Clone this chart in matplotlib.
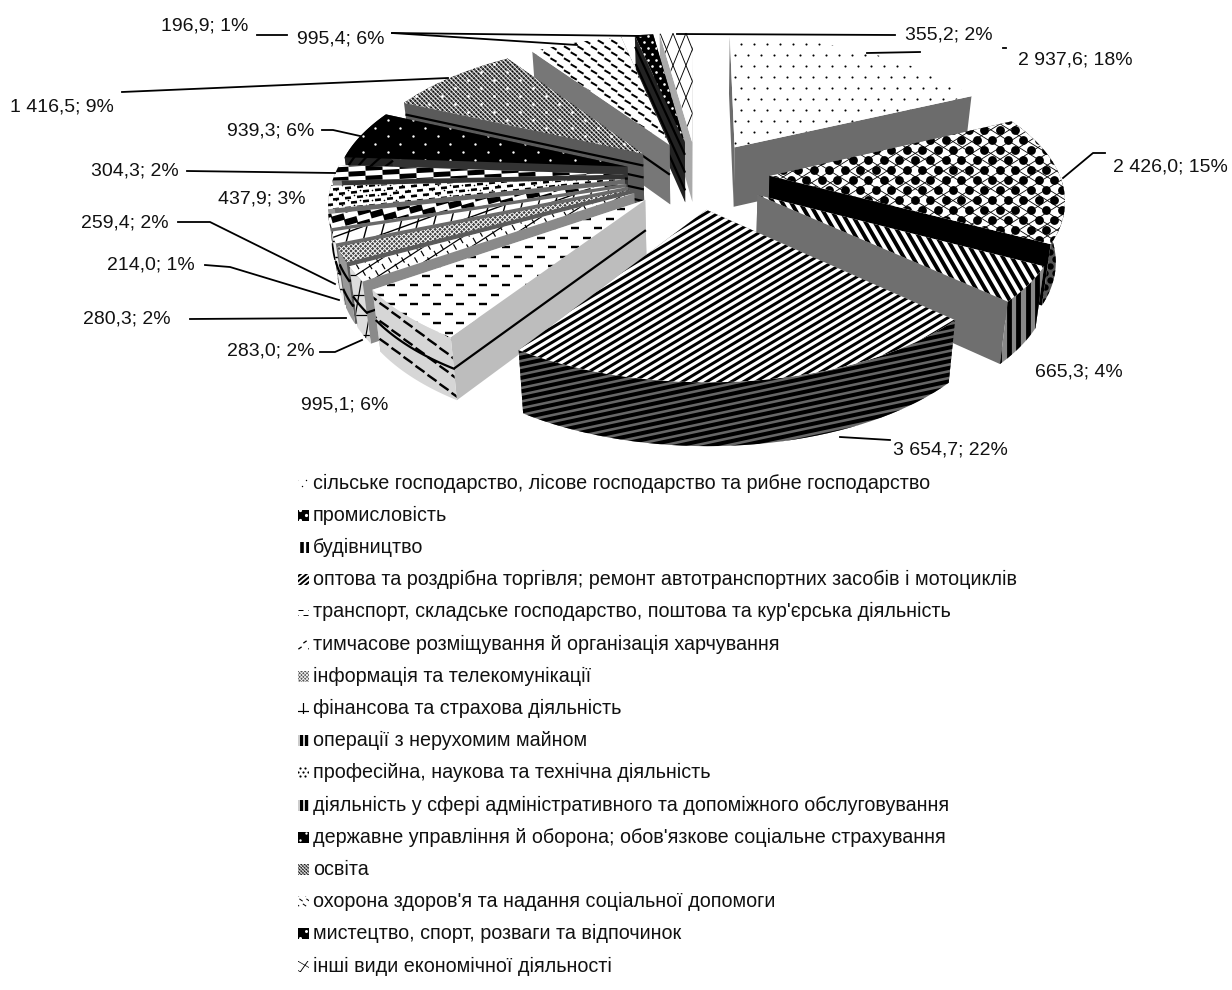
import numpy as np
import matplotlib
matplotlib.use("Agg")
import matplotlib.pyplot as plt
from matplotlib.patches import Polygon
from matplotlib.collections import LineCollection

categories = ["сільське господарство, лісове господарство та рибне господарство",
              "промисловість", "будівництво",
              "оптова та роздрібна торгівля; ремонт автотранспортних засобів і мотоциклів",
              "транспорт, складське господарство, поштова та кур'єрська діяльність",
              "тимчасове розміщування й організація харчування",
              "інформація та телекомунікації", "фінансова та страхова діяльність",
              "операції з нерухомим майном", "професійна, наукова та технічна діяльність",
              "діяльність у сфері адміністративного та допоміжного обслуговування",
              "державне управління й оборона; обов'язкове соціальне страхування",
              "освіта", "охорона здоров'я та надання соціальної допомоги",
              "мистецтво, спорт, розваги та відпочинок", "інші види економічної діяльності"]
values = [2937.6, 2426.0, 665.3, 3654.7, 995.1, 283.0, 280.3, 214.0,
          259.4, 437.9, 304.3, 939.3, 1416.5, 995.4, 196.9, 355.2]

plt.rcParams['font.family'] = ['Liberation Sans', 'DejaVu Sans']
fig = plt.figure(figsize=(12.32, 9.9), dpi=100)
ax = fig.add_axes([0, 0, 1, 1])
ax.set_xlim(0, 1232); ax.set_ylim(990, 0); ax.axis('off'); ax.set_autoscale_on(False)
PT = 0.72

# pie projection
CX, CY, AX, BY, K, EXPL = 697, 175, 290, 135, 0.15, 0.25
def proj(X, Y, z=0.0):
    X, Y = np.asarray(X, float), np.asarray(Y, float)
    s = 1 / (1 + K * Y)
    x = CX + AX * X * s
    y = CY - BY * Y * s
    return CX + (x - CX) * (1 - 0.025 * z), y + 60 * s**0.3 * z

def bbox(p):
    v = p.get_xy()
    return v[:, 0].min(), v[:, 0].max(), v[:, 1].min(), v[:, 1].max()

def stripes(p, angle, period, width, color='k'):
    x0, x1, y0, y1 = bbox(p)
    cx, cy, L = (x0 + x1) / 2, (y0 + y1) / 2, np.hypot(x1 - x0, y1 - y0) + 5
    a = np.radians(angle)
    d = np.array([np.cos(a), -np.sin(a)]); n = np.array([-d[1], d[0]])
    off0 = round((cx * n[0] + cy * n[1]) / period) * period - (cx * n[0] + cy * n[1])
    segs = []
    for o in np.arange(-L, L + period, period):
        c = np.array([cx, cy]) + n * (o + off0)
        segs.append([c - d * L, c + d * L])
    lc = LineCollection(segs, colors=color, linewidths=width * PT, capstyle='butt', zorder=p.get_zorder())
    ax.add_collection(lc); lc.set_clip_path(p)

def dashes(p, dx, dy, length, width, angle=0, color='k', rowtilt=0):
    x0, x1, y0, y1 = bbox(p)
    a = np.radians(angle)
    d = np.array([np.cos(a), -np.sin(a)]) * length / 2
    t = np.tan(np.radians(rowtilt))
    pad = abs(t) * (x1 - x0) + dy
    segs = []
    for yy in np.arange(np.floor((y0 - pad) / dy) * dy, y1 + pad + dy, dy):
        st = dx / 2 if round(yy / dy) % 2 else 0
        for xx in np.arange(np.floor(x0 / dx) * dx - dx + st, x1 + dx, dx):
            c = np.array([xx, yy - t * (xx - x0)])
            segs.append([c - d, c + d])
    lc = LineCollection(segs, colors=color, linewidths=width * PT, capstyle='butt', zorder=p.get_zorder())
    ax.add_collection(lc); lc.set_clip_path(p)

def dots(p, dx, dy, r, color='k'):
    x0, x1, y0, y1 = bbox(p)
    xs, ys = [], []
    for yy in np.arange(np.floor(y0 / dy) * dy, y1 + dy, dy):
        st = dx / 2 if round(yy / dy) % 2 else 0
        for xx in np.arange(np.floor(x0 / dx) * dx - dx + st, x1 + dx, dx):
            xs.append(xx); ys.append(yy)
    sc = ax.scatter(xs, ys, s=(2 * r * PT) ** 2, c=color, linewidths=0, zorder=p.get_zorder())
    sc.set_clip_path(p)

def paint(p, spec):
    for kind, kw in spec:
        {'stripes': stripes, 'dashes': dashes, 'dots': dots}[kind](p, **kw)

S = lambda **k: ('stripes', k)
D = lambda **k: ('dashes', k)
O = lambda **k: ('dots', k)

top_bg = ['white', 'white', 'white', 'white', 'white', 'white', '#444444', 'white',
          'white', 'white', 'white', 'black', '#666666', 'white', 'black', 'white']
top_tex = [
    [O(dx=13, dy=11, r=1.05)],
    [S(angle=32, period=10, width=.8), S(angle=-32, period=10, width=.8), O(dx=15.5, dy=10, r=4.4)],
    [S(angle=-60, period=7.8, width=3.9)],
    [S(angle=31, period=6.3, width=3.0)],
    [D(dx=23, dy=9.5, length=8, width=2.4)],
    [S(angle=33, period=13, width=1.2), D(dx=13, dy=6.5, length=6, width=1.2, angle=-60)],
    [S(angle=45, period=3.4, width=1.0, color='white'), S(angle=-45, period=3.4, width=1.0, color='white')],
    [S(angle=20, period=14, width=1.4), S(angle=75, period=16, width=1.4)],
    [D(dx=26, dy=6.5, length=13, width=6.5, angle=16, rowtilt=16)],
    [D(dx=12, dy=5, length=6, width=2.6, angle=6, rowtilt=6), O(dx=12, dy=5, r=.8)],
    [D(dx=34, dy=5, length=17, width=5, angle=3, rowtilt=3)],
    [O(dx=25, dy=8, r=1.2, color='white')],
    [S(angle=45, period=3.2, width=1.0), S(angle=-45, period=3.2, width=1.0, color='white'), O(dx=26, dy=8, r=1.4, color='white')],
    [D(dx=13.5, dy=6, length=7, width=2.0, angle=-30)],
    [O(dx=8, dy=6, r=1.3, color='white')],
    [S(angle=68, period=12, width=.9), S(angle=-68, period=12, width=.9)],
]
wall_col = ['#6c6c6c', '#000000', '#6f6f6f', '#6a6a6a', '#bdbdbd', '#8a8a8a', '#5a5a5a', '#6a6a6a',
            '#6a6a6a', '#6a6a6a', '#333333', '#333333', '#5a5a5a', '#777777', '#222222', '#aaaaaa']
wall_lines = [[], [], [], [], [.5], [.5], [.3, .7], [.5], [.5], [.5], [.5],
              [.2, .4, .6, .8], [.2, .4, .6, .8], [.5], [.2, .5, .8], []]
outer_bg = ['#cccccc', '#555555', '#888888', '#666666', '#d6d6d6', '#dddddd', '#999999', '#eeeeee',
            '#777777', '#999999', '#888888', '#222222', '#777777', '#cccccc', '#222222', '#dddddd']
outer_tex = [
    [], [O(dx=10, dy=7, r=3.2)], [S(angle=90, period=9.5, width=4.8)], [S(angle=12, period=6.6, width=4.0)],
    [D(dx=24, dy=9, length=11, width=2.4, angle=-35)], [S(angle=0, period=20, width=1.2), S(angle=80, period=14, width=1.2)],
    [], [S(angle=0, period=16, width=1.4)], [D(dx=10, dy=10, length=6, width=5)], [], [], [], [], [], [], []]
swatch_bg = ['white', 'black', 'white', 'white', 'white', 'white', '#555555', 'white',
             'black', 'white', 'black', 'black', '#777777', 'white', 'black', 'white']
swatch_tex = [
    [O(dx=9, dy=6, r=.7)],
    [O(dx=12, dy=5, r=1.6, color='white')],
    [S(angle=90, period=6.2, width=3.6)],
    [S(angle=40, period=3.8, width=2.0)],
    [D(dx=10, dy=5, length=5, width=1.0)],
    [D(dx=10, dy=6, length=4, width=1.3, angle=35)],
    [S(angle=45, period=2.6, width=.8, color='white'), S(angle=-45, period=2.6, width=.8, color='white')],
    [S(angle=0, period=12, width=1.2), S(angle=90, period=12, width=1.2)],
    [S(angle=90, period=5, width=1.6, color='white')],
    [O(dx=5, dy=4, r=1.1)],
    [S(angle=90, period=5, width=1.6, color='white')],
    [O(dx=12, dy=7, r=1.2, color='white')],
    [S(angle=45, period=2.4, width=.8), S(angle=-45, period=2.4, width=.8, color='white')],
    [D(dx=7, dy=5, length=4, width=1.0, angle=-35)],
    [O(dx=12, dy=7, r=1.5, color='white')],
    [S(angle=55, period=8, width=.9), S(angle=-30, period=8, width=.7)],
]

vals = np.array(values)
frac = vals / vals.sum()
edges = np.concatenate([[0], np.cumsum(frac)]) * 2 * np.pi

def pts(th, i, z=0.0, r=1.0):
    m = (edges[i] + edges[i + 1]) / 2
    X = EXPL * np.sin(m) + r * np.sin(th)
    Y = EXPL * np.cos(m) + r * np.cos(th)
    return np.array(proj(X, Y, z)).T

order = sorted(range(len(vals)), key=lambda i: -(np.cos((edges[i] + edges[i + 1]) / 2)))
for rank, i in enumerate(order):
    zb = 10 + rank * 0.01
    a, b = edges[i], edges[i + 1]
    w = sorted([a, b], key=lambda t: -np.cos(t))
    for n, t in enumerate(w):
        tt = np.array([t])
        q = np.vstack([pts(tt, i, 0, 0), pts(tt, i, 0), pts(tt, i, 1), pts(tt, i, 1, 0)])
        ax.add_patch(Polygon(q, closed=True, fc=wall_col[i], ec='none', zorder=zb))
        if n == 1:
            for zz in wall_lines[i]:
                l = np.vstack([pts(tt, i, zz, 0), pts(tt, i, zz)])
                ax.plot(l[:, 0], l[:, 1], color='k', lw=1.6, zorder=zb, solid_capstyle='butt')
    th = np.linspace(a, b, 40)
    if (np.cos(th) < 0.15).any():
        q = np.vstack([pts(th, i, 0), pts(th[::-1], i, 1)])
        o = Polygon(q, closed=True, fc=outer_bg[i], ec='none', zorder=zb + .001)
        ax.add_patch(o); paint(o, outer_tex[i])
        for zz in wall_lines[i]:
            l = pts(th, i, zz)
            ax.plot(l[:, 0], l[:, 1], color='k', lw=1.6, zorder=zb + .001)
    q = np.vstack([pts(np.array([a]), i, 0, 0), pts(th, i, 0)])
    t = Polygon(q, closed=True, fc=top_bg[i], ec='none', zorder=zb + .002)
    ax.add_patch(t); paint(t, top_tex[i])

def fmt(v, f):
    return f"{v:,.1f}".replace(',', ' ').replace('.', ',') + f"; {round(f * 100):d}%"
label_left = [1018, 1113, 1035, 893, 301, 227, 83, 107, 81, 218, 91, 227, 10, 297, 161, 905]
label_y = [60, 167, 372, 450, 405, 351, 319, 265, 223, 199, 171, 131, 107, 39, 26, 35]
FS = 14.0
for v, f, x, y in zip(vals, frac, label_left, label_y):
    ax.text(x, y, fmt(v, f), fontsize=FS, ha='left', va='center', color='#111111', zorder=30)

leaders = [[(867, 53), (920, 52)], [(1003, 48), (1006, 48)], [(1063, 178), (1093, 153), (1105, 153)],
           [(840, 437), (890, 440)], [(362, 340), (335, 352), (320, 352)], [(346, 318), (190, 319)],
           [(339, 300), (230, 267), (205, 265)], [(335, 284), (210, 222), (178, 222)], [(187, 171), (335, 173)],
           [(322, 130), (333, 130), (360, 136)], [(122, 92), (448, 78)], [(392, 33), (577, 45)],
           [(257, 35), (287, 35)], [(392, 33), (643, 36)], [(895, 35), (677, 34)]]
for l in leaders:
    l = np.array(l)
    ax.plot(l[:, 0], l[:, 1], color='k', lw=1.3, zorder=25)

LEG_Y0, LEG_DY = 483, 32.2
for i, c in enumerate(categories):
    y = LEG_Y0 + i * LEG_DY
    r = Polygon([(298, y - 5.5), (309, y - 5.5), (309, y + 5.5), (298, y + 5.5)], closed=True,
                fc=swatch_bg[i], ec='none', zorder=20)
    ax.add_patch(r); paint(r, swatch_tex[i])
    ax.text(313, y, c, fontsize=14.2, ha='left', va='center', color='#111111', zorder=30)

fig.savefig('out.png', dpi=100, facecolor='white')
